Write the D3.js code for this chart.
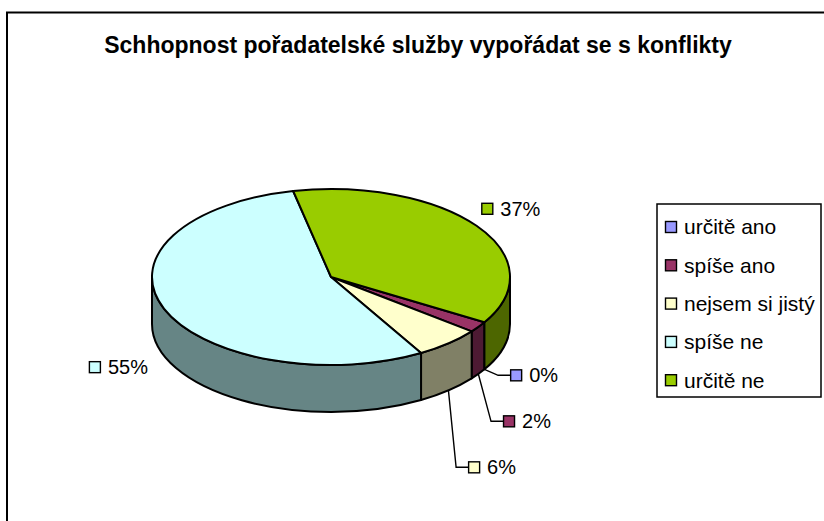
<!DOCTYPE html>
<html>
<head>
<meta charset="utf-8">
<script src="https://cdn.jsdelivr.net/npm/d3@7"></script>
<style>
body { margin: 0; background: #fff; }
text { font-family: Arial, "Liberation Sans", sans-serif; }
</style>
</head>
<body>
<div id="chart"></div>
<script>
// Data
var chartTitle = "Schhopnost pořadatelské služby vypořádat se s konflikty";
var categories = ["určitě ano", "spíše ano", "nejsem si jistý", "spíše ne", "určitě ne"];
var values = [0, 2, 6, 55, 37];
var topColors = ["#9999FF", "#993366", "#FFFFCC", "#CCFFFF", "#99CC00"];
var sideColors = ["#4D4D80", "#4D1A33", "#808066", "#668585", "#4D6600"];

// SVG container size
var svgWidth = 824;
var svgHeight = 521;

// pie geometry (3D ellipse)
var cx = 331, cy = 277, rx = 179, ry = 88, depth = 47;
var startAngle = 121 * Math.PI / 180;

var svg = d3.select("#chart")
    .append("svg")
    .attr("width", svgWidth)
    .attr("height", svgHeight);

// chart border (runs off the right and bottom)
svg.append("path")
    .attr("d", "M7,540 V12.5 H840")
    .attr("fill", "none")
    .attr("stroke", "#000")
    .attr("stroke-width", 2);

// title
svg.append("text")
    .attr("x", 418)
    .attr("y", 53)
    .attr("text-anchor", "middle")
    .attr("font-weight", "bold")
    .attr("font-size", 23)
    .text(chartTitle);

var pie = d3.pie()
    .sort(null)
    .startAngle(startAngle)
    .endAngle(startAngle + 2 * Math.PI);

var pieData = pie(values);
var total = d3.sum(values);

function pt(a, dy) {
    return [cx + rx * Math.sin(a), cy - ry * Math.cos(a) + (dy || 0)];
}

function topPath(a0, a1) {
    var p0 = pt(a0), p1 = pt(a1);
    var large = (a1 - a0) > Math.PI ? 1 : 0;
    return "M" + cx + "," + cy + "L" + p0 + "A" + rx + "," + ry + " 0 " + large + " 1 " + p1 + "Z";
}

function sidePath(s0, s1) {
    var p0 = pt(s0), p1 = pt(s1), q0 = pt(s0, depth), q1 = pt(s1, depth);
    return "M" + p0 + "A" + rx + "," + ry + " 0 0 1 " + p1 +
        "L" + q1 + "A" + rx + "," + ry + " 0 0 0 " + q0 + "Z";
}

// side walls - only the front half is visible
var sides = [];
pieData.forEach(function (d, i) {
    if (d.endAngle - d.startAngle <= 0) return;
    for (var k = 0; k < 3; k++) {
        var lo = Math.PI / 2 + k * 2 * Math.PI;
        var hi = 3 * Math.PI / 2 + k * 2 * Math.PI;
        var s0 = Math.max(d.startAngle, lo);
        var s1 = Math.min(d.endAngle, hi);
        if (s1 > s0) sides.push({ i: i, s0: s0, s1: s1 });
    }
});

var pieGroup = svg.append("g");

pieGroup.selectAll(".side")
    .data(sides)
    .enter()
    .append("path")
    .attr("class", "side")
    .attr("d", d => sidePath(d.s0, d.s1))
    .attr("fill", d => sideColors[d.i])
    .attr("stroke", "#000")
    .attr("stroke-width", 2)
    .attr("stroke-linejoin", "round");

pieGroup.selectAll(".top")
    .data(pieData.filter(d => d.endAngle > d.startAngle))
    .enter()
    .append("path")
    .attr("class", "top")
    .attr("d", d => topPath(d.startAngle, d.endAngle))
    .attr("fill", d => topColors[d.index])
    .attr("stroke", "#000")
    .attr("stroke-width", 2)
    .attr("stroke-linejoin", "round");

// data labels
var labelFont = 20, keySize = 11, keyGap = 8;
var labelGroup = svg.append("g");
var lastLeaderY = -Infinity;

pieData.forEach(function (d, i) {
    var a = (d.startAngle + d.endAngle) / 2;
    var s = Math.sin(a), c = Math.cos(a);
    var front = c < 0;
    var edge = pt(a, front ? depth : 0);
    var pct = Math.round(values[i] / total * 100) + "%";
    var leader = values[i] / total < 0.1;
    var left, midY;

    var g = labelGroup.append("g");
    var txt = g.append("text")
        .attr("font-size", labelFont)
        .attr("dy", "0.35em")
        .text(pct);
    var tw = txt.node().getComputedTextLength();
    var boxW = keySize + keyGap + tw;

    if (leader) {
        left = edge[0] + 30 * s;
        midY = Math.max(edge[1] + 6, lastLeaderY + 46);
        lastLeaderY = midY;
        g.append("path")
            .attr("d", "M" + edge + "L" + [left - 12, midY] + "L" + [left, midY])
            .attr("fill", "none")
            .attr("stroke", "#000")
            .attr("stroke-width", 1.4);
    } else {
        var px = edge[0] + 12 * s - 5, py = edge[1] - 12 * c;
        left = s >= 0 ? px : px - boxW;
        midY = c > 0 ? py - 10 : py + 7;
    }

    g.append("rect")
        .attr("x", left + 0.5)
        .attr("y", midY - keySize / 2)
        .attr("width", keySize)
        .attr("height", keySize)
        .attr("fill", topColors[i])
        .attr("stroke", "#000")
        .attr("stroke-width", 1.4);
    txt.attr("x", left + keySize + keyGap).attr("y", midY);
});

// legend
var legendX = 657, legendY = 204, legendW = 164, legendH = 193;
var legend = svg.append("g");

legend.append("rect")
    .attr("x", legendX)
    .attr("y", legendY)
    .attr("width", legendW)
    .attr("height", legendH)
    .attr("fill", "#fff")
    .attr("stroke", "#000")
    .attr("stroke-width", 1.5);

var items = legend.selectAll(".item")
    .data(categories)
    .enter()
    .append("g")
    .attr("class", "item")
    .attr("transform", (d, i) => `translate(${legendX + 8}, ${legendY + 23 + i * 38.3})`);

items.append("rect")
    .attr("x", 0.5)
    .attr("y", -keySize / 2)
    .attr("width", keySize)
    .attr("height", keySize)
    .attr("fill", (d, i) => topColors[i])
    .attr("stroke", "#000")
    .attr("stroke-width", 1.4);

items.append("text")
    .attr("x", 19)
    .attr("dy", "0.35em")
    .attr("font-size", 21)
    .text(d => d);
</script>
</body>
</html>
